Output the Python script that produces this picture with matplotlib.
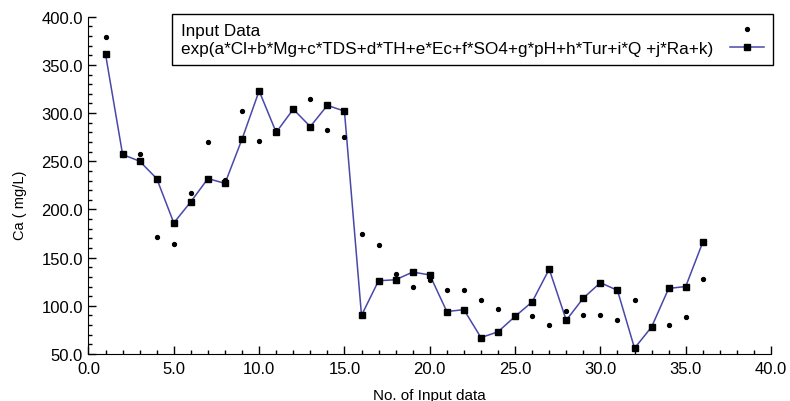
import matplotlib.pyplot as plt
from matplotlib.ticker import MultipleLocator, FormatStrFormatter

plt.rcParams['font.family'] = ['Liberation Sans', 'DejaVu Sans']

x = list(range(1, 37))
input_data = [379, 256, 258, 171, 164, 217, 270, 231, 302, 271, 282, 304,
              315, 282, 275, 174, 163, 133, 120, 127, 116, 116, 106, 97,
              89, 89, 80, 95, 90, 90, 85, 106, 79, 80, 88, 128]
fitted = [361, 257, 250, 232, 186, 208, 232, 227, 273, 323, 280, 304,
          286, 308, 302, 90, 126, 127, 135, 132, 94, 96, 67, 73,
          89, 104, 138, 85, 108, 124, 116, 56, 78, 118, 120, 166]

fit_label = 'exp(a*Cl+b*Mg+c*TDS+d*TH+e*Ec+f*SO4+g*pH+h*Tur+i*Q +j*Ra+k)'

fig = plt.figure(figsize=(7.9, 4.02), dpi=100)
ax = fig.add_axes([0.112, 0.117, 0.864, 0.839])

ax.plot(x, input_data, linestyle='none', marker='o', markersize=2.8,
        color='black', label='Input Data', zorder=3)
ax.plot(x, fitted, color='#4848aa', linewidth=1.1, marker='s', markersize=4.3,
        markerfacecolor='black', markeredgecolor='black', label=fit_label, zorder=2)

ax.set_xlim(0, 40)
ax.set_ylim(50, 400)
ax.xaxis.set_major_locator(MultipleLocator(5))
ax.xaxis.set_minor_locator(MultipleLocator(1))
ax.yaxis.set_major_locator(MultipleLocator(50))
ax.yaxis.set_minor_locator(MultipleLocator(10))
ax.xaxis.set_major_formatter(FormatStrFormatter('%.1f'))
ax.yaxis.set_major_formatter(FormatStrFormatter('%.1f'))

ax.tick_params(which='major', direction='in', length=6, width=1, labelsize=12)
ax.tick_params(axis='x', which='major', pad=5)
ax.tick_params(axis='y', which='major', pad=4)
ax.tick_params(which='minor', direction='in', length=3, width=1)
ax.spines['top'].set_visible(False)
ax.spines['right'].set_visible(False)

ax.set_xlabel('No. of Input data', fontsize=11)
ax.xaxis.set_label_coords(0.5, -0.1)
ax.set_ylabel('Ca ( mg/L)', fontsize=10.5)
ax.yaxis.set_label_coords(-0.09, 0.445)

leg = ax.legend(loc='upper right', bbox_to_anchor=(773 / 790, 1 - 15 / 402),
                bbox_transform=fig.transFigure, markerfirst=False,
                fontsize=12.3, frameon=True, fancybox=False, borderpad=0.5,
                labelspacing=0.2, handlelength=2.0, handletextpad=1.0, borderaxespad=0)
leg.get_frame().set_edgecolor('black')
leg.get_frame().set_linewidth(1)
leg.get_frame().set_alpha(1)

# left-align legend texts while keeping the markers on the right
fig.canvas.draw()
r = fig.canvas.get_renderer()
widths = [t.get_window_extent(r).width for t in leg.texts]
col = leg._legend_handle_box.get_children()[0]
col.align = 'left'
items = col.get_children()
for item, w in zip(items, widths):
    item.sep += (max(widths) - w) * 72 / fig.dpi

fig.savefig('out.png', dpi=100)
